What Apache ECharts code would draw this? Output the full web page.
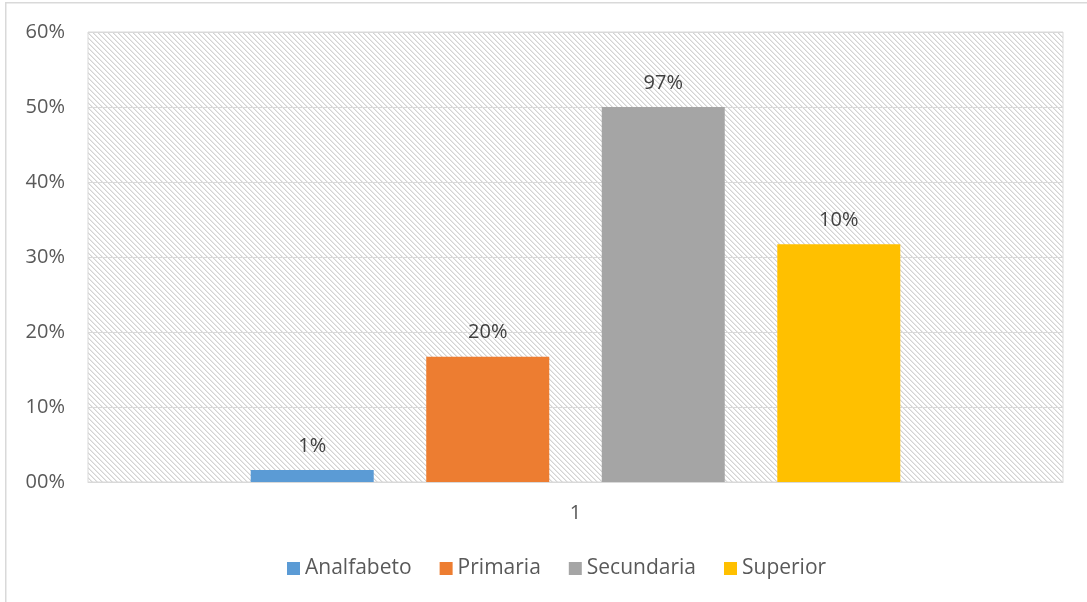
<!DOCTYPE html>
<html>
<head>
<meta charset="utf-8">
<title>Nivel de instrucción</title>
<script src="https://cdn.jsdelivr.net/npm/echarts@6/dist/echarts.min.js"></script>
<style>
  html, body { margin: 0; padding: 0; background: #ffffff; }
  #chart { width: 1087px; height: 602px; }
</style>
</head>
<body>
<div id="chart"></div>
<script>
// Single category on the x axis
const categories = ['1'];
// One series per education level (bar heights as fractions)
const seriesNames = ['Analfabeto', 'Primaria', 'Secundaria', 'Superior'];
const seriesValues = [0.016, 0.167, 0.50, 0.317];
// Text printed above each bar
const barLabels = ['1%', '20%', '97%', '10%'];
const seriesColors = ['#5b9bd5', '#ed7d31', '#a5a5a5', '#ffc000'];
// Y axis range / ticks
const yMin = 0, yMax = 0.6, yStep = 0.1;

const FONT = '"Open Sans", "Liberation Sans", sans-serif';
const TEXT_COLOR = '#595959';
const LINE_COLOR = '#d9d9d9';

// Diagonal hatch tile used as the plot-area fill
function hatchTile() {
  const size = 10;
  const c = document.createElement('canvas');
  c.width = size; c.height = size;
  const ctx = c.getContext('2d');
  ctx.fillStyle = '#ffffff';
  ctx.fillRect(0, 0, size, size);
  for (let y = 0; y < size; y++) {
    for (let x = 0; x < size; x++) {
      const d = ((x - y) % 5 + 5) % 5;
      if (d === 0) { ctx.fillStyle = '#d3d3d3'; ctx.fillRect(x, y, 1, 1); }
      else if (d === 1) { ctx.fillStyle = '#e9e9e9'; ctx.fillRect(x, y, 1, 1); }
    }
  }
  return c;
}

const chart = echarts.init(document.getElementById('chart'), null, { renderer: 'canvas' });

const series = seriesNames.map((name, i) => ({
  name: name,
  type: 'bar',
  data: [seriesValues[i]],
  barWidth: 123,
  barGap: '42.7%',
  itemStyle: { color: seriesColors[i] },
  label: {
    show: true,
    position: 'top',
    distance: 14,
    formatter: () => barLabels[i],
    fontFamily: FONT,
    fontSize: 20,
    color: '#404040'
  },
  emphasis: { disabled: true }
}));

chart.setOption({
  animation: false,
  backgroundColor: '#ffffff',
  textStyle: { fontFamily: FONT },
  graphic: [{
    type: 'rect',
    silent: true,
    shape: { x: 5.75, y: 2.75, width: 1200, height: 700 },
    style: { fill: 'none', stroke: LINE_COLOR, lineWidth: 1.5 },
    z: 100
  }],
  grid: {
    left: 88, top: 32, right: 24, bottom: 120,
    show: true,
    backgroundColor: { image: hatchTile(), repeat: 'repeat' },
    borderColor: LINE_COLOR,
    borderWidth: 1
  },
  legend: {
    data: seriesNames,
    left: 282,
    top: 553,
    icon: 'rect',
    itemWidth: 13,
    itemHeight: 13,
    itemGap: 28,
    textStyle: { fontFamily: FONT, fontSize: 21, color: TEXT_COLOR }
  },
  xAxis: {
    type: 'category',
    data: categories,
    axisLine: { show: true, lineStyle: { color: LINE_COLOR, width: 1 } },
    axisTick: { show: false },
    axisLabel: { fontFamily: FONT, fontSize: 20, color: TEXT_COLOR, margin: 21 },
    splitLine: { show: false }
  },
  yAxis: {
    type: 'value',
    min: yMin,
    max: yMax,
    interval: yStep,
    axisLine: { show: false },
    axisTick: { show: false },
    axisLabel: {
      fontFamily: FONT, fontSize: 20, color: TEXT_COLOR, margin: 23,
      formatter: v => String(Math.round(v * 100)).padStart(2, '0') + '%'
    },
    splitLine: { show: true, lineStyle: { color: LINE_COLOR, width: 1 } }
  },
  series: series
});
</script>
</body>
</html>
